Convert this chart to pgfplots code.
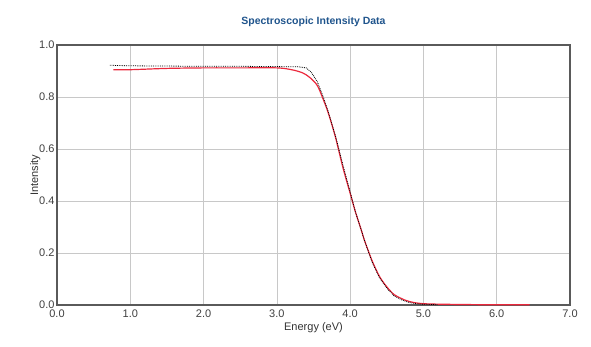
\documentclass[border=0pt]{standalone}
\usepackage{fontspec}
\setmainfont{Liberation Sans}
\usepackage{pgfplots}
\pgfplotsset{compat=1.18}
\definecolor{titleblue}{RGB}{31,84,140}
\definecolor{gridgray}{RGB}{200,200,200}
\definecolor{framegray}{RGB}{90,90,90}
\definecolor{curvered}{RGB}{235,40,60}
\begin{document}
\begin{tikzpicture}[x=1pt,y=1pt]
\path[use as bounding box] (-57,-41) rectangle (534,305);
\begin{axis}[
  at={(0,0)}, anchor=south west,
  scale only axis, width=513pt, height=260pt,
  xmin=0, xmax=7, ymin=0, ymax=1,
  xtick={0,1,...,7}, ytick={0,0.2,...,1.0},
  /pgf/number format/assume math mode=true,
  /pgf/number format/.cd, fixed, fixed zerofill, precision=1, /pgfplots/.cd,
  grid=major, major grid style={gridgray, line width=0.6pt},
  axis line style={framegray, line width=1.3pt},
  tick style={draw=none},
  ticklabel style={font=\fontsize{11}{12}\selectfont, text=black!75},
  xlabel={Energy (eV)}, ylabel={Intensity},
  label style={font=\fontsize{11}{12}\selectfont, text=black!80},
  xticklabel style={yshift=-1pt},
  xlabel style={yshift=2pt},
  ylabel style={yshift=-8pt},
  yticklabel style={xshift=1pt},
  title={\textbf{Spectroscopic Intensity Data}},
  title style={font=\fontsize{10.5}{12}\selectfont, text=titleblue, yshift=9pt},
]
\addplot[curvered, line width=1.2pt, smooth] coordinates {
(0.77,0.905) (1.0,0.905) (1.5,0.91) (2.0,0.912) (2.5,0.912) (3.0,0.912)
(3.2,0.905) (3.35,0.893) (3.45,0.875) (3.55,0.845) (3.62,0.80) (3.7,0.74)
(3.8,0.645) (3.9,0.53) (4.0,0.43) (4.07,0.36) (4.15,0.29) (4.2,0.245)
(4.3,0.17) (4.4,0.11) (4.5,0.07) (4.6,0.04) (4.7,0.025) (4.8,0.014)
(5.0,0.005) (5.5,0.002) (6.0,0.001) (6.45,0.001)
};
\addplot[black, line width=0.8pt, densely dotted] coordinates {
(0.72,0.922) (1.0,0.92) (1.5,0.919) (2.0,0.918) (2.5,0.918) (3.0,0.917)
(3.3,0.916) (3.4,0.912) (3.47,0.895) (3.55,0.86) (3.62,0.81) (3.7,0.745)
(3.8,0.65) (3.9,0.54) (4.0,0.435) (4.07,0.36) (4.15,0.29) (4.2,0.245)
(4.3,0.165) (4.4,0.105) (4.5,0.065) (4.6,0.035) (4.7,0.02) (4.8,0.01)
(4.9,0.005) (5.0,0.003) (5.2,0.001)
};
\end{axis}
\end{tikzpicture}
\end{document}
